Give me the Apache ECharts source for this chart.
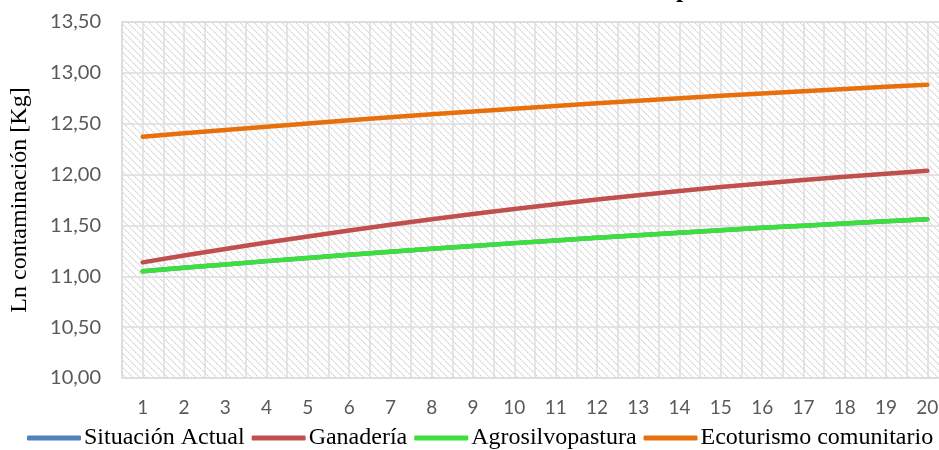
<!DOCTYPE html>
<html>
<head>
<meta charset="utf-8">
<script src="https://cdn.jsdelivr.net/npm/echarts@6/dist/echarts.min.js"></script>
<style>html,body{margin:0;padding:0;background:#fff}#c{width:939px;height:450px}</style>
</head>
<body>
<div id="c"></div>
<script>
var categories = [1,2,3,4,5,6,7,8,9,10,11,12,13,14,15,16,17,18,19,20];
var yTicks = [10.0,10.5,11.0,11.5,12.0,12.5,13.0,13.5];
var situacionActual = [11.05,11.084,11.117,11.149,11.18,11.211,11.241,11.27,11.298,11.326,11.353,11.379,11.404,11.429,11.453,11.476,11.498,11.52,11.541,11.561];
var ganaderia = [11.137,11.204,11.269,11.332,11.392,11.45,11.506,11.56,11.612,11.662,11.709,11.754,11.797,11.838,11.877,11.913,11.947,11.979,12.009,12.037];
var agrosilvopastura = [11.05,11.084,11.117,11.149,11.18,11.211,11.241,11.27,11.298,11.326,11.353,11.379,11.404,11.429,11.453,11.476,11.498,11.52,11.541,11.561];
var ecoturismo = [12.372,12.406,12.439,12.471,12.502,12.533,12.563,12.592,12.62,12.648,12.675,12.701,12.726,12.751,12.775,12.798,12.82,12.842,12.863,12.883];
var seriesNames = ['Situación Actual','Ganadería','Agrosilvopastura','Ecoturismo comunitario'];
var titleText = 'Ln contaminación por escenario';

// hatch pattern
var P = 7;
var pc = document.createElement('canvas');
pc.width = P; pc.height = P;
var pctx = pc.getContext('2d');
pctx.fillStyle = '#ffffff';
pctx.fillRect(0,0,P,P);
for (var i = 0; i < P; i++) {
  pctx.fillStyle = (i % 2 === 0) ? '#d6d6d6' : '#e6e6e6';
  pctx.fillRect(i, i, 1, 1);
  pctx.fillStyle = '#f1f1f1';
  pctx.fillRect((i + 1) % P, i, 1, 1);
}

function pairs(arr){ return categories.map(function(c,i){ return [c, arr[i]]; }); }

var chart = echarts.init(document.getElementById('c'), null, {renderer:'canvas'});
var lblFont = 'Lato, "Open Sans", sans-serif';
var serif = '"Liberation Serif", "DejaVu Serif", serif';
chart.setOption({
  animation: false,
  title: {
    text: titleText,
    left: 463, top: -28,
    textStyle: {fontFamily: serif, fontWeight: 'bold', fontSize: 26, color: '#000'}
  },
  grid: {
    left: 122, top: 22, width: 826, height: 356,
    show: true,
    backgroundColor: {image: pc, repeat: 'repeat'},
    borderColor: '#d9d9d9', borderWidth: 1.5,
    containLabel: false,
    outerBoundsMode: 'none'
  },
  legend: {
    left: 27, top: 426, padding: 0,
    itemWidth: 54, itemHeight: 5, itemGap: 7,
    icon: 'roundRect',
    textStyle: {fontFamily: serif, fontSize: 24, color: '#000', padding: [0,0,0,-2]},
    data: seriesNames
  },
  xAxis: {
    type: 'value', min: 0.5, max: 20.5, interval: 0.5,
    axisLine: {show: false}, axisTick: {show: false},
    axisLabel: {
      margin: 20, fontFamily: lblFont, fontSize: 19, color: '#595959',
      showMinLabel: true, showMaxLabel: true,
      formatter: function(v){ return (Math.abs(v - Math.round(v)) < 1e-6 && categories.indexOf(Math.round(v)) >= 0) ? String(Math.round(v)) : ''; }
    },
    splitLine: {show: true, lineStyle: {color: '#dcdcdc', width: 1.5}}
  },
  yAxis: {
    type: 'value', min: 10, max: 13.5, interval: 0.5,
    name: 'Ln contaminación [Kg]', nameLocation: 'middle', nameGap: 90, nameRotate: 90,
    nameTextStyle: {fontFamily: serif, fontSize: 24, color: '#000'},
    axisLine: {show: false}, axisTick: {show: false},
    axisLabel: {
      margin: 21, fontFamily: lblFont, fontSize: 20, color: '#595959',
      formatter: function(v){ return v.toFixed(2).replace('.', ','); }
    },
    splitLine: {show: true, lineStyle: {color: '#dcdcdc', width: 1.5}}
  },
  series: [
    {name: seriesNames[0], type: 'line', data: pairs(situacionActual), showSymbol: false, symbol: 'none', lineStyle: {width: 4.5, color: '#4f81bd', cap: 'round'}, itemStyle: {color: '#4f81bd'}},
    {name: seriesNames[1], type: 'line', data: pairs(ganaderia), showSymbol: false, symbol: 'none', lineStyle: {width: 4.5, color: '#c0504d', cap: 'round'}, itemStyle: {color: '#c0504d'}},
    {name: seriesNames[2], type: 'line', data: pairs(agrosilvopastura), showSymbol: false, symbol: 'none', lineStyle: {width: 4.5, color: '#3ddf3d', cap: 'round'}, itemStyle: {color: '#3ddf3d'}},
    {name: seriesNames[3], type: 'line', data: pairs(ecoturismo), showSymbol: false, symbol: 'none', lineStyle: {width: 4.5, color: '#e8700c', cap: 'round'}, itemStyle: {color: '#e8700c'}}
  ]
});
</script>
</body>
</html>
